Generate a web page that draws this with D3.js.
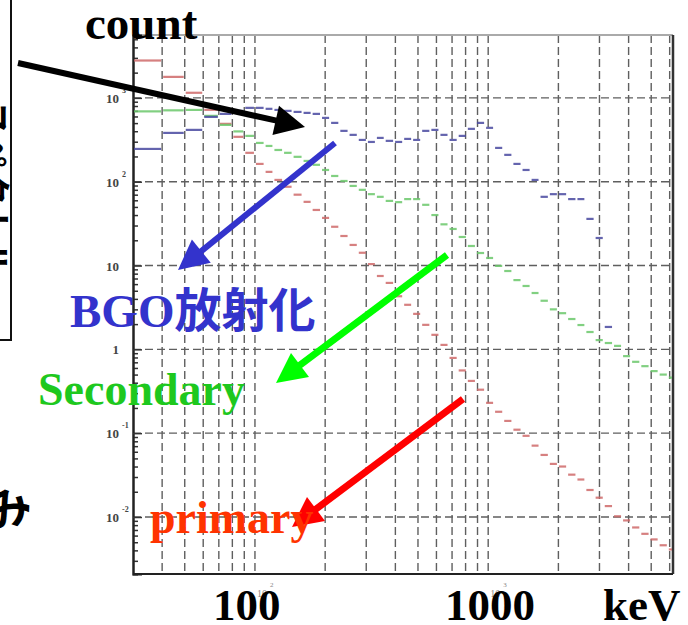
<!DOCTYPE html>
<html>
<head>
<meta charset="utf-8">
<script src="https://cdn.jsdelivr.net/npm/d3@7/dist/d3.min.js"></script>
<style>
  html, body { margin: 0; padding: 0; background: #fff; }
  svg { display: block; }
</style>
</head>
<body>
<div id="chart"></div>
<script>
// bin edges in keV (shared by the three histograms)
const binEdges = [30, 40, 50, 60, 70, 80, 90, 100, 110, 120, 132, 145, 160, 175, 192, 210, 230, 252, 276, 302,
  330, 360, 395, 432, 472, 516, 565, 618, 676, 740, 810, 886, 970, 1060, 1160, 1270, 1390, 1520, 1660, 1820,
  1990, 2180, 2390, 2610, 2860, 3130, 3430, 3750, 4100, 4490, 4920, 5380, 5890, 6200];

// counts per bin (null = no entry)
const bgoCounts = [246, 382, 415, 593, 644, 700, 760, 760, 740, 718, 700, 680, 662, 644, 577, 503, 404, 362, 315, 298,
  333, 307, 298, 324, 315, 404, 415, 362, 315, 352, 427, 503, 439, 253, 209, 163, 138, 105, 66, 71,
  71, 62, 62, 36, 21.3, 1.85, null, null, null, null, null, null, null];
const secondaryCounts = [690, 710, 718, 610, 476, 398, 352, 290, 267, 239, 221, 198, 177, 159, 138, 117, 102, 89, 80, 71,
  66, 59, 57, 62, 62, 53, 40, 31, 27.3, 21.9, 17.1, 14.1, 12.3, 9.9, 8.6, 6.7, 5.7, 4.7, 3.8, 3.0,
  2.7, 2.3, 1.95, 1.61, 1.29, 1.19, 1.10, 0.83, 0.71, 0.63, 0.55, 0.50, 0.46];
const primaryCounts = [2790, 1780, 1150, 720, 490, 343, 221, 163, 131, 105, 87, 70, 57.5, 46, 37, 29, 22.5, 17.6, 14.2, 10.4,
  7.5, 6.2, 4.3, 3.4, 2.65, 1.96, 1.49, 1.13, 0.79, 0.56, 0.42, 0.33, 0.23, 0.18, 0.14, 0.11, 0.093, 0.071, 0.055, 0.043,
  0.040, 0.032, 0.028, 0.021, 0.017, 0.0135, 0.0102, 0.0091, 0.0075, 0.0063, 0.0054, 0.0046, 0.0041];

const yDecades = [3, 2, 1, 0, -1, -2];
const xGridValues = [40, 50, 60, 70, 80, 90, 100, 200, 300, 400, 500, 600, 700, 800, 900, 1000, 2000, 3000, 4000, 5000, 6000];
const xDecadeLabels = [2, 3];

const W = 688, H = 625;
const plot = { left: 133, right: 673, top: 35, bottom: 574 };

const svg = d3.select("#chart").append("svg")
  .attr("width", W).attr("height", H);

const x = d3.scaleLog().domain([30, 6200]).range([plot.left, plot.right]);
const y = d3.scaleLog().domain([Math.pow(10, -2.68), Math.pow(10, 3.75)]).range([plot.bottom, plot.top]);

// leftovers of the neighbouring slide content, cut by the left edge
svg.append("path")
  .attr("d", "M11,0 V340 H0")
  .attr("fill", "none").attr("stroke", "#111").attr("stroke-width", 2);
svg.append("text")
  .attr("transform", "translate(-21,100) rotate(90)")
  .attr("font-family", "'Noto Sans CJK JP', sans-serif").attr("font-size", 36).attr("font-weight", "bold")
  .attr("fill", "#000").text("スペクトル");
svg.append("text")
  .attr("transform", "translate(-8,532) rotate(-20)")
  .attr("font-family", "'Noto Sans CJK JP', sans-serif").attr("font-size", 46).attr("font-weight", "bold")
  .attr("fill", "#000").text("み");

// grid
const grid = svg.append("g").attr("stroke", "#444").attr("stroke-width", 1.4)
  .attr("stroke-dasharray", "8,4").attr("opacity", 0.85);
grid.selectAll(".hg").data(yDecades).join("line")
  .attr("x1", plot.left).attr("x2", plot.right)
  .attr("y1", d => y(Math.pow(10, d))).attr("y2", d => y(Math.pow(10, d)));
grid.selectAll(".vg").data(xGridValues).join("line")
  .attr("y1", plot.top).attr("y2", plot.bottom)
  .attr("x1", d => x(d)).attr("x2", d => x(d));

// frame
svg.append("line").attr("x1", plot.left).attr("x2", plot.right).attr("y1", plot.top).attr("y2", plot.top)
  .attr("stroke", "#aaa").attr("stroke-width", 2);
svg.append("line").attr("x1", plot.right).attr("x2", plot.right).attr("y1", plot.top).attr("y2", plot.bottom)
  .attr("stroke", "#333").attr("stroke-width", 2.5);
svg.append("line").attr("x1", plot.left).attr("x2", plot.right).attr("y1", plot.bottom).attr("y2", plot.bottom)
  .attr("stroke", "#222").attr("stroke-width", 2);

// left axis with inward ticks
const minorTicks = [];
yDecades.concat([-3]).forEach(d => {
  for (let k = 2; k <= 9; k++) {
    const v = k * Math.pow(10, d);
    if (v > y.domain()[0] && v < y.domain()[1]) minorTicks.push(v);
  }
});
const yMinor = svg.append("g").attr("transform", `translate(${plot.left},0)`)
  .call(d3.axisLeft(y).tickValues(minorTicks).tickSize(-5).tickFormat(""));
const yMajor = svg.append("g").attr("transform", `translate(${plot.left},0)`)
  .call(d3.axisLeft(y).tickValues(yDecades.map(d => Math.pow(10, d))).tickSize(-9).tickFormat(""));
[yMinor, yMajor].forEach(g => {
  g.select(".domain").attr("stroke", "#222").attr("stroke-width", 2);
  g.selectAll(".tick line").attr("stroke", "#333").attr("stroke-width", 1.5);
});

// y labels: 10 with small exponent
const yLab = svg.append("g").attr("font-family", "Liberation Serif, serif").attr("font-weight", "bold")
  .attr("fill", "#444");
yDecades.forEach(d => {
  const py = y(Math.pow(10, d));
  yLab.append("text").attr("x", 119).attr("y", py + 5).attr("text-anchor", "end")
    .attr("font-size", 13).text(d === 0 ? "1" : "10");
  if (d !== 0 && d !== 1) {
    yLab.append("text").attr("x", 122).attr("y", py - 5).attr("font-size", 8).text(d);
  }
});

// small x decade labels (partly hidden under big numbers)
const xLab = svg.append("g").attr("font-family", "Liberation Serif, serif").attr("fill", "#888");
xDecadeLabels.forEach(d => {
  const px = x(Math.pow(10, d));
  xLab.append("text").attr("x", px + 2).attr("y", 597).attr("font-size", 10).text("10");
  xLab.append("text").attr("x", px + 15).attr("y", 587).attr("font-size", 7).text(d);
});

// histograms
const series = [
  { name: "primary", values: primaryCounts, color: "#cf6a6a" },
  { name: "secondary", values: secondaryCounts, color: "#6cc86c" },
  { name: "bgo", values: bgoCounts, color: "#4a4aa0" }
];
series.forEach(s => {
  const bins = s.values.map((v, i) => ({ x0: binEdges[i], x1: binEdges[i + 1], v }))
    .filter(b => b.v != null);
  svg.append("g").selectAll("line").data(bins).join("line")
    .attr("x1", b => x(b.x0) + 1).attr("x2", b => x(b.x1) - 1)
    .attr("y1", b => y(b.v)).attr("y2", b => y(b.v))
    .attr("stroke", s.color).attr("stroke-width", 2.2).attr("opacity", 0.85);
});

// annotation arrows
const arrows = [
  { from: [18, 63], to: [305, 127], color: "#000", width: 6 },
  { from: [335, 143], to: [178, 270], color: "#3333cc", width: 6 },
  { from: [447, 255], to: [276, 383], color: "#00ff00", width: 7 },
  { from: [463, 399], to: [292, 527], color: "#ff0000", width: 7 }
];
arrows.forEach(a => {
  const dx = a.to[0] - a.from[0], dy = a.to[1] - a.from[1];
  const len = Math.hypot(dx, dy), ux = dx / len, uy = dy / len;
  const headL = 30, headW = 15;
  const bx = a.to[0] - ux * headL, by = a.to[1] - uy * headL;
  svg.append("line").attr("x1", a.from[0]).attr("y1", a.from[1])
    .attr("x2", bx + ux * 2).attr("y2", by + uy * 2)
    .attr("stroke", a.color).attr("stroke-width", a.width);
  svg.append("path")
    .attr("d", `M${a.to[0]},${a.to[1]} L${bx - uy * headW},${by + ux * headW} L${bx + uy * headW},${by - ux * headW} Z`)
    .attr("fill", a.color);
});

// annotation labels
const labels = [
  { text: "count", x: 85, y: 39, size: 47, color: "#000" },
  { text: "BGO放射化", x: 70, y: 327, size: 47, color: "#3333cc" },
  { text: "Secondary", x: 38, y: 405, size: 46, color: "#1ec81e" },
  { text: "primary", x: 150, y: 533, size: 46, color: "#ff3300" },
  { text: "100", x: 213, y: 620, size: 45, color: "#000" },
  { text: "1000", x: 445, y: 620, size: 45, color: "#000" },
  { text: "keV", x: 603, y: 620, size: 45, color: "#000" }
];
svg.append("g").selectAll("text").data(labels).join("text")
  .attr("x", d => d.x).attr("y", d => d.y)
  .attr("font-family", "Liberation Serif, 'Noto Sans CJK JP', serif")
  .attr("font-weight", "bold")
  .attr("font-size", d => d.size).attr("fill", d => d.color)
  .text(d => d.text);
</script>
</body>
</html>
